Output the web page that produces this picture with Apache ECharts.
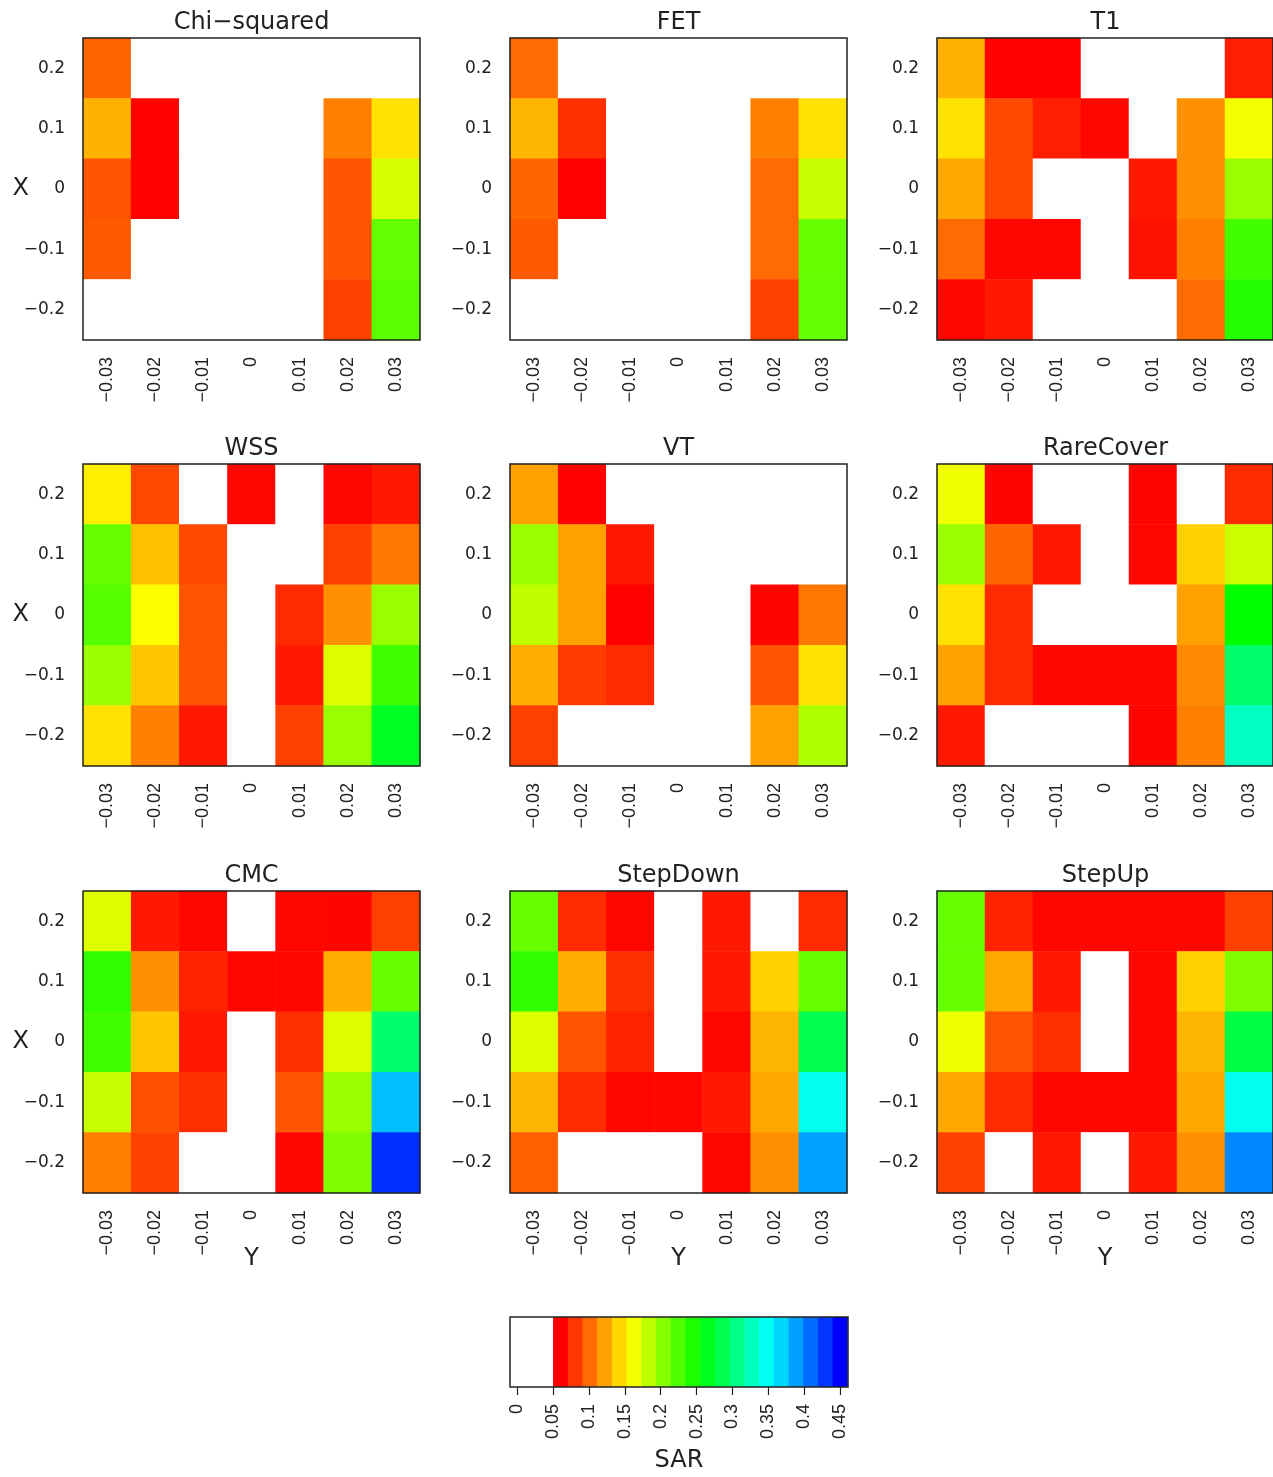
<!DOCTYPE html>
<html>
<head>
<meta charset="utf-8">
<title>SAR heatmaps</title>
<script src="https://cdn.jsdelivr.net/npm/echarts@6/dist/echarts.min.js"></script>
<style>
  html, body { margin: 0; padding: 0; background: #fff; }
  #main { width: 1273px; height: 1477px; }
</style>
</head>
<body>
<div id="main"></div>
<script>
// horizontal axis of every panel ("Y")
const yValues = ['−0.03', '−0.02', '−0.01', '0', '0.01', '0.02', '0.03'];
// vertical axis of every panel ("X"), bottom to top
const xValues = ['−0.2', '−0.1', '0', '0.1', '0.2'];

const panelNames = ['Chi−squared', 'FET', 'T1', 'WSS', 'VT', 'RareCover', 'CMC', 'StepDown', 'StepUp'];

// SAR per cell, rows from X = 0.2 (top) down to X = -0.2, columns Y = -0.03 .. 0.03
// values under 0.05 are drawn white
const chiSquared = [
  [0.091, 0.03, 0.03, 0.03, 0.03, 0.03, 0.03],
  [0.122, 0.051, 0.03, 0.03, 0.03, 0.101, 0.141],
  [0.084, 0.051, 0.03, 0.03, 0.03, 0.084, 0.168],
  [0.086, 0.03, 0.03, 0.03, 0.03, 0.084, 0.216],
  [0.03, 0.03, 0.03, 0.03, 0.03, 0.076, 0.219]
];
const fet = [
  [0.093, 0.03, 0.03, 0.03, 0.03, 0.03, 0.03],
  [0.123, 0.069, 0.03, 0.03, 0.03, 0.101, 0.141],
  [0.091, 0.051, 0.03, 0.03, 0.03, 0.093, 0.175],
  [0.086, 0.03, 0.03, 0.03, 0.03, 0.093, 0.214],
  [0.03, 0.03, 0.03, 0.03, 0.03, 0.076, 0.216]
];
const t1 = [
  [0.122, 0.051, 0.051, 0.03, 0.03, 0.03, 0.062],
  [0.141, 0.079, 0.062, 0.053, 0.03, 0.108, 0.156],
  [0.118, 0.079, 0.03, 0.03, 0.060, 0.108, 0.193],
  [0.093, 0.053, 0.053, 0.03, 0.057, 0.101, 0.229],
  [0.053, 0.060, 0.03, 0.03, 0.03, 0.093, 0.241]
];
const wss = [
  [0.146, 0.079, 0.03, 0.053, 0.03, 0.053, 0.060],
  [0.214, 0.127, 0.079, 0.03, 0.03, 0.076, 0.098],
  [0.221, 0.152, 0.084, 0.03, 0.067, 0.108, 0.193],
  [0.193, 0.130, 0.084, 0.03, 0.060, 0.166, 0.229],
  [0.141, 0.101, 0.060, 0.03, 0.076, 0.193, 0.269]
];
const vt = [
  [0.115, 0.051, 0.03, 0.03, 0.03, 0.03, 0.03],
  [0.193, 0.115, 0.060, 0.03, 0.03, 0.03, 0.03],
  [0.178, 0.115, 0.051, 0.03, 0.03, 0.052, 0.098],
  [0.120, 0.074, 0.067, 0.03, 0.03, 0.084, 0.141],
  [0.076, 0.03, 0.03, 0.03, 0.03, 0.115, 0.185]
];
const rareCover = [
  [0.159, 0.052, 0.03, 0.03, 0.052, 0.03, 0.067],
  [0.193, 0.091, 0.060, 0.03, 0.053, 0.134, 0.173],
  [0.141, 0.067, 0.03, 0.03, 0.03, 0.115, 0.255],
  [0.115, 0.067, 0.053, 0.053, 0.053, 0.105, 0.298],
  [0.060, 0.03, 0.03, 0.03, 0.052, 0.101, 0.332]
];
const cmc = [
  [0.166, 0.060, 0.053, 0.03, 0.053, 0.052, 0.076],
  [0.236, 0.108, 0.064, 0.053, 0.053, 0.120, 0.214],
  [0.229, 0.130, 0.060, 0.03, 0.069, 0.166, 0.299],
  [0.175, 0.082, 0.069, 0.03, 0.084, 0.193, 0.383],
  [0.101, 0.076, 0.03, 0.03, 0.053, 0.204, 0.441]
];
const stepDown = [
  [0.214, 0.067, 0.053, 0.03, 0.060, 0.03, 0.067],
  [0.236, 0.120, 0.069, 0.03, 0.060, 0.134, 0.214],
  [0.166, 0.084, 0.064, 0.03, 0.053, 0.123, 0.287],
  [0.123, 0.067, 0.053, 0.053, 0.060, 0.118, 0.351],
  [0.088, 0.03, 0.03, 0.03, 0.053, 0.108, 0.395]
];
const stepUp = [
  [0.214, 0.064, 0.053, 0.053, 0.053, 0.053, 0.076],
  [0.214, 0.118, 0.060, 0.03, 0.053, 0.134, 0.204],
  [0.159, 0.084, 0.069, 0.03, 0.053, 0.123, 0.282],
  [0.118, 0.067, 0.053, 0.053, 0.053, 0.118, 0.352],
  [0.076, 0.03, 0.060, 0.03, 0.060, 0.108, 0.405]
];
const panels = [chiSquared, fet, t1, wss, vt, rareCover, cmc, stepDown, stepUp];

// colour key
const sarTicks = [0, 0.05, 0.1, 0.15, 0.2, 0.25, 0.3, 0.35, 0.4, 0.45];
const sarBreaks = [0.05, 0.0705, 0.091, 0.1115, 0.132, 0.1525, 0.173, 0.1935, 0.214, 0.2345, 0.255,
  0.2755, 0.296, 0.3165, 0.337, 0.3575, 0.378, 0.3985, 0.419, 0.4395, 0.46];
const sarColors = ['#ff0000', '#ff3600', '#ff6b00', '#ffa100', '#ffd700', '#f2ff00', '#bcff00', '#86ff00',
  '#50ff00', '#1bff00', '#00ff1b', '#00ff50', '#00ff86', '#00ffbc', '#00fff2', '#00d7ff', '#00a1ff',
  '#006bff', '#0036ff', '#0000ff'];

const chart = echarts.init(document.getElementById('main'));

const colLeft = [83, 510, 937];
const rowTop = [38, 464, 891];
const plotW = 337, plotH = 302;
const font = 'DejaVu Sans';
// rotated tick labels are narrower in the original
const vFont = '"Liberation Sans", sans-serif';
const ink = '#222';

function frameSeries(idx) {
  return {
    type: 'custom', xAxisIndex: idx, yAxisIndex: idx, silent: true, clip: false, z: 5,
    data: [[0, 0]],
    renderItem: (params) => ({
      type: 'rect',
      shape: { x: params.coordSys.x, y: params.coordSys.y, width: params.coordSys.width, height: params.coordSys.height },
      style: { fill: 'none', stroke: ink, lineWidth: 1.5 }
    })
  };
}

const grid = [], xAxis = [], yAxis = [], series = [], graphic = [], heatIdx = [];

panels.forEach((vals, i) => {
  const col = i % 3, row = Math.floor(i / 3);
  grid.push({ left: colLeft[col], top: rowTop[row], width: plotW, height: plotH });
  xAxis.push({
    type: 'category', gridIndex: i, data: yValues,
    name: row === 2 ? 'Y' : '', nameLocation: 'middle', nameGap: 54, nameMoveOverlap: false,
    nameTextStyle: { fontFamily: font, fontSize: 24, color: ink },
    axisLine: { show: false },
    axisTick: { alignWithLabel: true, interval: 0, length: 7, lineStyle: { color: ink, width: 1.2 } },
    axisLabel: { interval: 0, rotate: 90, margin: 17, fontFamily: vFont, fontSize: 18, color: ink },
    splitLine: { show: false }
  });
  yAxis.push({
    type: 'category', gridIndex: i, data: xValues,
    name: col === 0 ? 'X' : '', nameLocation: 'middle', nameRotate: 0, nameGap: 54, nameMoveOverlap: false,
    nameTextStyle: { fontFamily: font, fontSize: 24, color: ink },
    axisLine: { show: false },
    axisTick: { alignWithLabel: true, interval: 0, length: 8, lineStyle: { color: ink, width: 1.2 } },
    axisLabel: { interval: 0, margin: 18, fontFamily: font, fontSize: 17, color: ink },
    splitLine: { show: false }
  });

  const data = [];
  vals.forEach((rowVals, r) => {
    rowVals.forEach((v, c) => data.push([c, xValues.length - 1 - r, v]));
  });
  heatIdx.push(series.length);
  series.push({
    type: 'heatmap', xAxisIndex: i, yAxisIndex: i, data: data,
    itemStyle: { borderWidth: 0 },
    emphasis: { disabled: true }
  });
  series.push(frameSeries(i));

  graphic.push({
    type: 'text', x: colLeft[col] + plotW / 2, y: rowTop[row] - 15.5, silent: true,
    style: { text: panelNames[i], fontFamily: font, fontSize: 24, fill: ink, align: 'center', verticalAlign: 'middle' }
  });
});

// colour key at the bottom
const keyIdx = panels.length;
grid.push({ left: 510, top: 1317, width: 338, height: 70 });
xAxis.push({
  type: 'value', gridIndex: keyIdx, min: -0.01, max: 0.461,
  name: 'SAR', nameLocation: 'middle', nameGap: 62, nameMoveOverlap: false,
  nameTextStyle: { fontFamily: font, fontSize: 24, color: ink },
  axisLine: { show: false },
  axisTick: { customValues: sarTicks, length: 8, lineStyle: { color: ink, width: 1.2 } },
  axisLabel: { customValues: sarTicks, rotate: 90, margin: 17, fontFamily: vFont, fontSize: 18, color: ink,
    formatter: (v) => String(v) },
  splitLine: { show: false }
});
yAxis.push({ type: 'value', gridIndex: keyIdx, min: 0, max: 1, show: false });

const keyData = [[-0.01, sarBreaks[0], -1]];
sarColors.forEach((c, k) => keyData.push([sarBreaks[k], sarBreaks[k + 1], k]));
series.push({
  type: 'custom', xAxisIndex: keyIdx, yAxisIndex: keyIdx, silent: true, clip: false,
  data: keyData,
  encode: { x: [0, 1] },
  renderItem: (params, api) => {
    const p0 = api.coord([api.value(0), 1]);
    const p1 = api.coord([api.value(1), 0]);
    const k = api.value(2);
    return {
      type: 'rect',
      shape: { x: p0[0], y: p0[1], width: p1[0] - p0[0] + 0.5, height: p1[1] - p0[1] },
      style: { fill: k < 0 ? '#ffffff' : sarColors[k] }
    };
  }
});
series.push(frameSeries(keyIdx));

chart.setOption({
  animation: false,
  backgroundColor: '#ffffff',
  grid: grid,
  xAxis: xAxis,
  yAxis: yAxis,
  visualMap: {
    type: 'continuous', show: false, seriesIndex: heatIdx, dimension: 2,
    min: 0.05, max: 0.46,
    // lower handle just above min so that cells under 0.05 fall out of range (white)
    range: [0.0505, 0.46],
    inRange: { color: ['#ff0000', '#ffff00', '#00ff00', '#00ffff', '#0000ff'] },
    outOfRange: { color: '#ffffff' }
  },
  graphic: graphic,
  series: series
});
</script>
</body>
</html>
